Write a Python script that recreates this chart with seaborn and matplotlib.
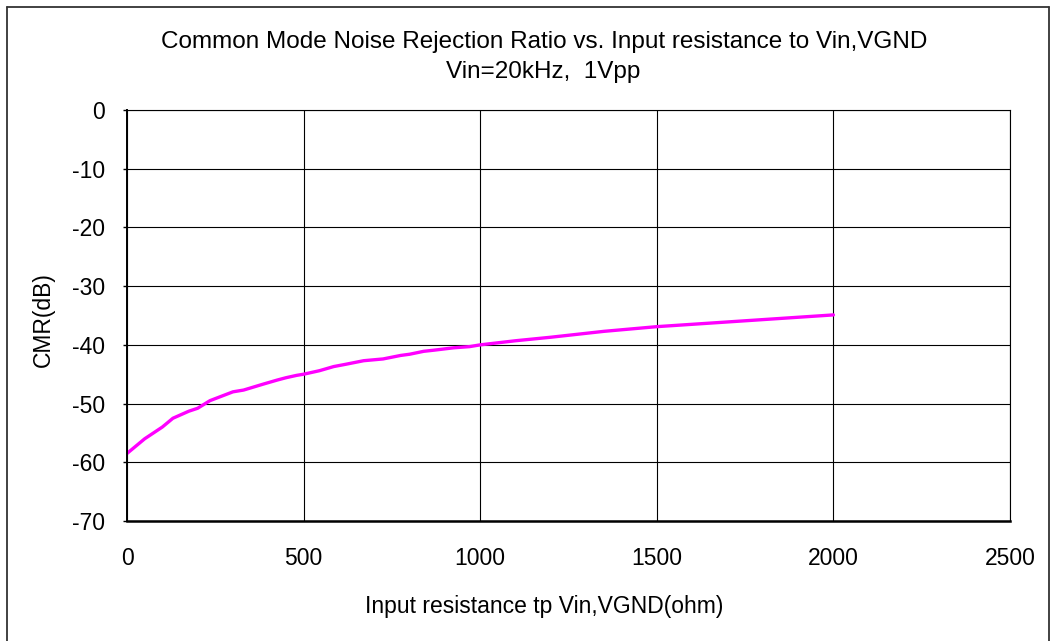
import matplotlib
matplotlib.use("Agg")
import matplotlib.pyplot as plt
import seaborn as sns
import pandas as pd
from matplotlib.lines import Line2D

resistance = [0, 50, 100, 130, 175, 200, 235, 300, 330, 385, 425, 450, 480, 500,
              545, 585, 620, 670, 725, 775, 800, 840, 870, 925, 970, 1000,
              1100, 1200, 1350, 1500, 1750, 2000]
cmr_db = [-58.5, -56.0, -54.0, -52.5, -51.3, -50.8, -49.5, -48.0, -47.7, -46.7, -46.0,
          -45.6, -45.2, -45.0, -44.4, -43.7, -43.3, -42.7, -42.4, -41.8, -41.6, -41.1,
          -40.9, -40.5, -40.3, -40.0, -39.3, -38.7, -37.7, -36.9, -35.9, -34.9]
x_ticks = [0, 500, 1000, 1500, 2000, 2500]
y_ticks = [0, -10, -20, -30, -40, -50, -60, -70]

sns.set_theme(style="white")
plt.rcParams['font.family'] = ['Liberation Sans', 'DejaVu Sans']
plt.rcParams['text.color'] = 'black'
plt.rcParams['axes.labelcolor'] = 'black'
plt.rcParams['xtick.color'] = 'black'
plt.rcParams['ytick.color'] = 'black'

df = pd.DataFrame({"R": resistance, "CMR": cmr_db})

W, H = 1056, 641
fig = plt.figure(figsize=(W / 100, H / 100), dpi=100)
ax = fig.add_axes([127 / W, 1 - 521 / H, (1010 - 127) / W, (521 - 110) / H])

sns.lineplot(data=df, x="R", y="CMR", ax=ax, color="#FF00FF", linewidth=2.4)

FS = 16.5
ax.set_xlim(0, 2500)
ax.set_ylim(-70, 0)
ax.set_xticks(x_ticks)
ax.set_yticks(y_ticks)
ax.set_xticklabels([str(v) for v in x_ticks], fontsize=FS)
ax.set_yticklabels([str(v) for v in y_ticks], fontsize=FS)
ax.grid(True, color="black", linewidth=0.8)
ax.tick_params(axis="y", which="both", left=True, length=3, width=1, color="black", pad=13)
ax.tick_params(axis="x", which="both", bottom=False, pad=13)
for sp in ax.spines.values():
    sp.set_color("black")
    sp.set_linewidth(0.8)
ax.spines["bottom"].set_linewidth(1.8)
ax.spines["left"].set_linewidth(1.4)

ax.set_xlabel("Input resistance tp Vin,VGND(ohm)", fontsize=FS)
ax.set_ylabel("CMR(dB)", fontsize=FS)
ax.xaxis.set_label_coords((544 - 127) / 883, (521 - 606) / 411)
ax.xaxis.label.set_va("center")
ax.yaxis.set_label_coords((43 - 127) / 883, 0.49)
ax.yaxis.label.set_va("center")

fig.text(544 / W, 1 - 42 / H, "Common Mode Noise Rejection Ratio vs. Input resistance to Vin,VGND",
         ha="center", va="center", fontsize=17.5)
fig.text(543 / W, 1 - 72 / H, "Vin=20kHz,  1Vpp", ha="center", va="center", fontsize=17.5)

# outer chart frame
xl, xr, yt = 7 / W, 1049 / W, 1 - 7 / H
for xs, ys in [([xl, xl], [0, yt]), ([xr, xr], [0, yt]), ([xl, xr], [yt, yt])]:
    fig.add_artist(Line2D(xs, ys, transform=fig.transFigure, color="#333333", linewidth=1.3))

fig.savefig("out.png", dpi=100)
